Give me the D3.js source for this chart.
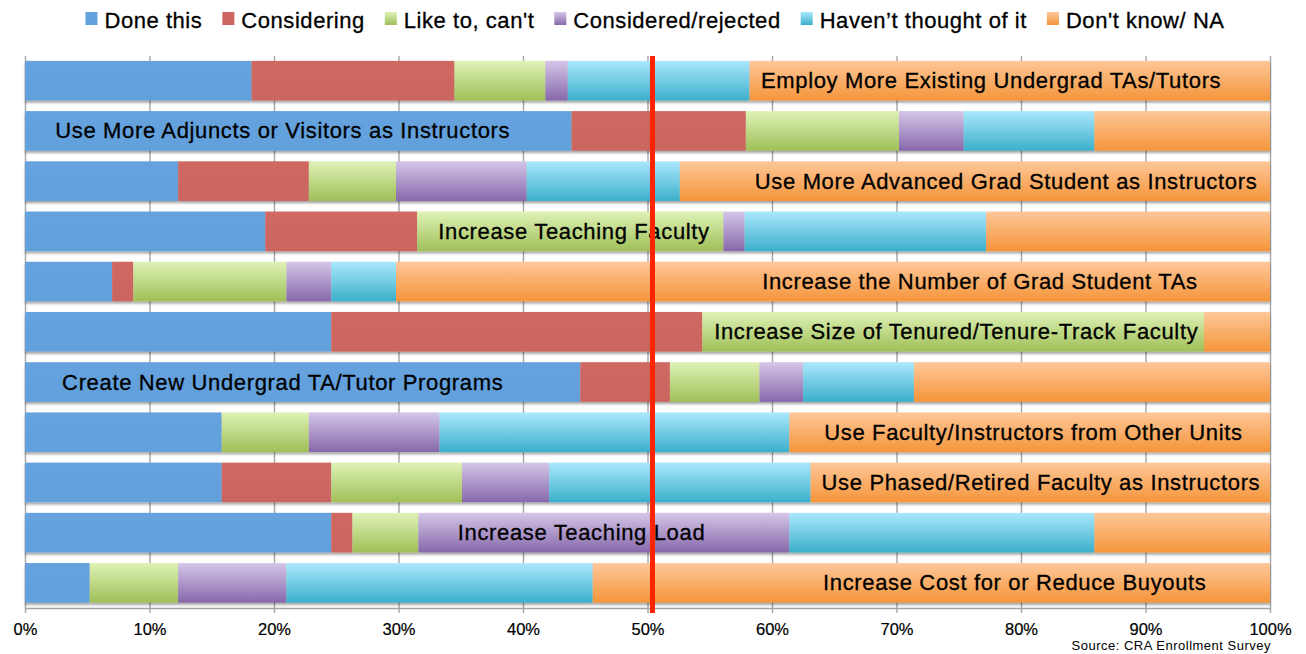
<!DOCTYPE html>
<html><head><meta charset="utf-8">
<script src="https://cdn.jsdelivr.net/npm/d3@7"></script>
<style>
body{margin:0;background:#fff}
svg{display:block}
text{font-family:"Liberation Sans",Arial,Helvetica,sans-serif}
</style>
</head><body>
<svg id="c" width="1306" height="654"></svg>
<script>
// ---------- data ----------
const categories = [
  "Employ More Existing Undergrad TAs/Tutors",
  "Use More Adjuncts or Visitors as Instructors",
  "Use More Advanced Grad Student as Instructors",
  "Increase Teaching Faculty",
  "Increase the Number of Grad Student TAs",
  "Increase Size of Tenured/Tenure-Track Faculty",
  "Create New Undergrad TA/Tutor Programs",
  "Use Faculty/Instructors from Other Units",
  "Use Phased/Retired Faculty as Instructors",
  "Increase Teaching Load",
  "Increase Cost for or Reduce Buyouts"
];
const seriesNames = ["Done this", "Considering", "Like to, can't", "Considered/rejected", "Haven\u2019t thought of it", "Don't know/ NA"];
const doneThis    = [18.2, 43.9, 12.3, 19.3, 7.0, 24.6, 44.6, 15.8, 15.8, 24.6, 5.2];
const considering = [16.3, 14.0, 10.5, 12.2, 1.7, 29.8, 7.2, 0, 8.8, 1.7, 0];
const likeTo      = [7.3, 12.3, 7.0, 24.6, 12.3, 40.3, 7.2, 7.0, 10.5, 5.3, 7.1];
const rejected    = [1.8, 5.2, 10.5, 1.7, 3.6, 0, 3.5, 10.5, 7.0, 29.8, 8.7];
const notThought  = [14.6, 10.5, 12.3, 19.4, 5.2, 0, 8.9, 28.1, 21.0, 24.5, 24.6];
const dontKnow    = [41.8, 14.1, 47.4, 22.8, 70.2, 5.3, 28.6, 38.6, 36.9, 14.1, 54.4];
// where each category's label is centred (percent along the axis)
const labelAt     = [77.6, 20.7, 78.8, 44.1, 76.7, 74.8, 20.7, 81.0, 81.6, 44.7, 79.5];
const referenceLine = 50.4;
const tickValues = [0, 10, 20, 30, 40, 50, 60, 70, 80, 90, 100];
const tickLabels = ["0%", "10%", "20%", "30%", "40%", "50%", "60%", "70%", "80%", "90%", "100%"];
const sourceNote = "Source: CRA Enrollment Survey";

// ---------- styles ----------
const seriesColors = [
  ["#66a2de", "#62a0dc"],
  ["#cf6862", "#cb655f"],
  ["#def2b6", "#a0bf58"],
  ["#d4c6e8", "#8768ab"],
  ["#aae8fc", "#3cafcb"],
  ["#fec799", "#f5953a"]
];

const seriesValues = [doneThis, considering, likeTo, rejected, notThought, dontKnow];
const rows = categories.map((c, i) => {
  const r = {cat: c};
  seriesNames.forEach((s, k) => r[s] = seriesValues[k][i]);
  return r;
});

const svg = d3.select("#c");
const x = d3.scaleLinear().domain([0, 100]).range([25, 1270]);
const plotTop = 56, axisY = 608;
const y = d3.scaleBand().domain(categories).range([55.6, axisY]).paddingInner(0.21).paddingOuter(0.105);

// defs
const defs = svg.append("defs");
seriesColors.forEach((c, k) => {
  const g = defs.append("linearGradient").attr("id", "g" + k)
    .attr("x1", 0).attr("y1", 0).attr("x2", 0).attr("y2", 1);
  g.append("stop").attr("offset", "0%").attr("stop-color", c[0]);
  g.append("stop").attr("offset", "100%").attr("stop-color", c[1]);
});
const f = defs.append("filter").attr("id", "sh").attr("x", "-5%").attr("y", "-20%").attr("width", "110%").attr("height", "150%");
f.append("feDropShadow").attr("dx", 0).attr("dy", 2.2).attr("stdDeviation", 1.2)
  .attr("flood-color", "#000").attr("flood-opacity", 0.35);

// grid
const grid = svg.append("g").attr("transform", `translate(0,${axisY})`)
  .call(d3.axisBottom(x).tickValues(tickValues).tickSize(-(axisY - plotTop)).tickFormat(""));
grid.select(".domain").remove();
grid.selectAll(".tick line").attr("stroke", "#a4a4a4").attr("stroke-width", 1.4);

// axis
const ax = svg.append("g").attr("transform", `translate(0,${axisY})`)
  .call(d3.axisBottom(x).tickValues(tickValues).tickSizeInner(5).tickSizeOuter(0).tickPadding(10)
    .tickFormat((d, i) => tickLabels[i]));
ax.select(".domain").attr("stroke", "#a4a4a4").attr("stroke-width", 1.4);
ax.selectAll(".tick line").attr("stroke", "#a4a4a4").attr("stroke-width", 1.4);
ax.selectAll(".tick text").attr("font-size", 16.5).attr("fill", "#000")
  .attr("stroke", "#000").attr("stroke-width", 0.2)
  .style("font-family", '"Liberation Sans", Arial, sans-serif');

// bars
const stacked = d3.stack().keys(seriesNames)(rows);
const bars = svg.append("g").attr("filter", "url(#sh)");
bars.selectAll("g").data(stacked).join("g")
  .attr("fill", (d, k) => `url(#g${k})`)
  .selectAll("rect").data(d => d.filter(p => p[1] - p[0] > 0)).join("rect")
  .attr("x", d => x(d[0]))
  .attr("y", d => y(d.data.cat))
  .attr("width", d => x(d[1]) - x(d[0]))
  .attr("height", y.bandwidth());

// labels
svg.append("g").selectAll("text").data(categories).join("text")
  .attr("x", (d, i) => x(labelAt[i]))
  .attr("y", d => y(d) + y.bandwidth() / 2 + 7.5)
  .attr("text-anchor", "middle")
  .attr("font-size", 22)
  .attr("letter-spacing", "0.65px")
  .attr("fill", "#000")
  .attr("stroke", "#000").attr("stroke-width", 0.3)
  .text(d => d);

// reference line
svg.append("rect")
  .attr("x", x(referenceLine) - 2.5).attr("width", 5)
  .attr("y", plotTop).attr("height", axisY + 5 - plotTop)
  .attr("fill", "#ff2400");

// legend
const leg = svg.append("g");
const items = leg.selectAll("g").data(seriesNames).join("g");
items.append("rect").attr("width", 12).attr("height", 13).attr("y", 12)
  .attr("fill", (d, k) => `url(#g${k})`);
items.append("text").attr("x", 19).attr("y", 27.5)
  .attr("font-size", 22).attr("letter-spacing", "0.55px").attr("fill", "#000")
  .attr("stroke", "#000").attr("stroke-width", 0.3)
  .text(d => d);
let cx = 0;
const offs = [];
items.each(function () {
  offs.push(cx);
  const w = d3.select(this).select("text").node().getComputedTextLength();
  cx += 19 + w + 20;
});
const total = cx - 20;
const startX = 655 - total / 2;
items.attr("transform", (d, i) => `translate(${startX + offs[i]},0)`);

// source
svg.append("text").attr("x", 1271).attr("y", 650).attr("text-anchor", "end")
  .attr("font-size", 13).attr("letter-spacing", "0.5px").attr("fill", "#000")
  .text(sourceNote);
</script>
</body></html>
